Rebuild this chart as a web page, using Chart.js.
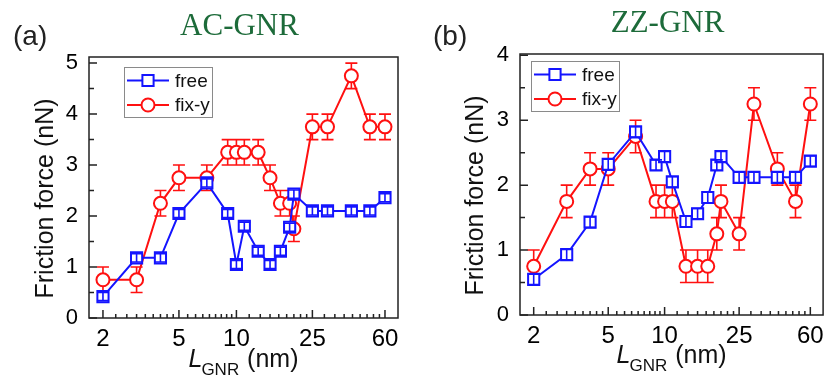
<!DOCTYPE html>
<html lang="en">
<head>
    <meta charset="UTF-8">
    <title>Friction force vs GNR length</title>
    <style>
        body {
            margin: 0;
            background: #ffffff;
        }
        .panel {
            position: absolute;
            top: 0;
            height: 381px;
        }
        #panelA { left: 0; width: 416px; }
        #panelB { left: 416px; width: 417px; }
    </style>
</head>
<body>
    <div class="panel" id="panelA"><canvas id="chartA" width="416" height="381"></canvas></div>
    <div class="panel" id="panelB"><canvas id="chartB" width="417" height="381"></canvas></div>

    <script src="https://cdn.jsdelivr.net/npm/chart.js"></script>
    <script>
        // GNR lengths (nm) shared by every series
        const lengthNm = [2, 3, 4, 5, 7, 9, 10, 11, 13, 15, 17, 19, 20, 25, 30, 40, 50, 60];
        const xTickLabels = [2, 5, 10, 25, 60];
        const yTicksAC = [0, 1, 2, 3, 4, 5];
        const yTicksZZ = [0, 1, 2, 3, 4];

        // (a) AC-GNR
        const acFree     = [0.42, 1.18, 1.18, 2.05, 2.65, 2.05, 1.05, 1.80, 1.31, 1.05, 1.31, 1.78, 2.43, 2.10, 2.10, 2.10, 2.10, 2.36];
        const acFreeErr  = [0.08, 0.08, 0.08, 0.08, 0.08, 0.08, 0.08, 0.08, 0.08, 0.08, 0.08, 0.08, 0.08, 0.08, 0.08, 0.08, 0.08, 0.08];
        const acFixY     = [0.75, 0.75, 2.25, 2.75, 2.75, 3.25, 3.25, 3.25, 3.25, 2.75, 2.25, 2.25, 1.75, 3.75, 3.75, 4.75, 3.75, 3.75];
        const acFixYErr  = [0.25, 0.25, 0.25, 0.25, 0.25, 0.25, 0.25, 0.25, 0.25, 0.25, 0.25, 0.25, 0.25, 0.25, 0.25, 0.25, 0.25, 0.25];

        // (b) ZZ-GNR
        const zzFree     = [0.55, 0.93, 1.43, 2.32, 2.82, 2.31, 2.44, 2.05, 1.44, 1.56, 1.81, 2.31, 2.44, 2.12, 2.12, 2.12, 2.12, 2.37];
        const zzFreeErr  = [0.08, 0.08, 0.08, 0.08, 0.08, 0.08, 0.08, 0.08, 0.08, 0.08, 0.08, 0.08, 0.08, 0.08, 0.08, 0.08, 0.08, 0.08];
        const zzFixY     = [0.75, 1.75, 2.25, 2.25, 2.75, 1.75, 1.75, 1.75, 0.75, 0.75, 0.75, 1.25, 1.75, 1.25, 3.25, 2.25, 1.75, 3.25];
        const zzFixYErr  = [0.25, 0.25, 0.25, 0.25, 0.25, 0.25, 0.25, 0.25, 0.25, 0.25, 0.25, 0.25, 0.25, 0.25, 0.25, 0.25, 0.25, 0.25];

        const BLUE = '#1414ff';
        const RED = '#ff1010';
        const SANS = '"Liberation Sans", Arial, sans-serif';

        function drawMarker(ctx, style, x, y, color) {
            ctx.save();
            ctx.lineWidth = 2;
            ctx.strokeStyle = color;
            ctx.fillStyle = '#ffffff';
            ctx.beginPath();
            if (style === 'rect') {
                ctx.rect(x - 5.6, y - 5.6, 11.2, 11.2);
            } else {
                ctx.arc(x, y, 6.5, 0, Math.PI * 2);
            }
            ctx.fill();
            ctx.stroke();
            ctx.restore();
        }

        // vertical error bars, read through the y scale
        function drawErrors(chart, index) {
            const ds = chart.data.datasets[index];
            const meta = chart.getDatasetMeta(index);
            const yScale = chart.scales.y;
            const ctx = chart.ctx;
            ctx.save();
            ctx.strokeStyle = ds.borderColor;
            ctx.lineWidth = 1.6;
            ctx.beginPath();
            meta.data.forEach((pt, i) => {
                const v = ds.data[i].y, e = ds.errors[i];
                const top = yScale.getPixelForValue(v + e);
                const bot = yScale.getPixelForValue(v - e);
                ctx.moveTo(pt.x, top); ctx.lineTo(pt.x, bot);
                ctx.moveTo(pt.x - 6, top); ctx.lineTo(pt.x + 6, top);
                ctx.moveTo(pt.x - 6, bot); ctx.lineTo(pt.x + 6, bot);
            });
            ctx.stroke();
            ctx.restore();
        }

        const errorBars = {
            id: 'errorBars',
            beforeDatasetDraw(chart, args) {
                if (!chart.data.datasets[args.index].errOnTop) drawErrors(chart, args.index);
            },
            afterDatasetDraw(chart, args) {
                if (chart.data.datasets[args.index].errOnTop) drawErrors(chart, args.index);
            }
        };

        // frame, inward ticks, titles and boxed legend
        const decorations = {
            id: 'decorations',
            beforeDatasetsDraw(chart) {
                const { ctx, chartArea: a, scales: { x, y } } = chart;
                ctx.save();
                ctx.strokeStyle = '#222';
                ctx.lineWidth = 1.5;
                ctx.strokeRect(a.left, a.top, a.right - a.left, a.bottom - a.top);
                ctx.beginPath();
                const yt = y.ticks.map(t => t.value);
                yt.forEach((v, i) => {
                    const p = y.getPixelForValue(v);
                    ctx.moveTo(a.left, p); ctx.lineTo(a.left + 8, p);
                    if (i < yt.length - 1) {
                        const m = y.getPixelForValue((v + yt[i + 1]) / 2);
                        ctx.moveTo(a.left, m); ctx.lineTo(a.left + 5, m);
                    }
                });
                const xt = x.ticks.map(t => t.value);
                xt.forEach((v, i) => {
                    const p = x.getPixelForValue(v);
                    ctx.moveTo(p, a.bottom); ctx.lineTo(p, a.bottom - 8);
                    if (i < xt.length - 1) {
                        const step = (xt[i + 1] - v) / 9;
                        for (let k = 1; k < 9; k++) {
                            const m = x.getPixelForValue(v + k * step);
                            ctx.moveTo(m, a.bottom); ctx.lineTo(m, a.bottom - 4);
                        }
                    }
                });
                ctx.stroke();
                ctx.restore();
            },
            afterDraw(chart, args, opts) {
                const { ctx, chartArea: a } = chart;
                const cx = (a.left + a.right) / 2;
                ctx.save();

                // panel letter
                ctx.fillStyle = '#222';
                ctx.font = '28px ' + SANS;
                ctx.textAlign = 'left';
                ctx.textBaseline = 'alphabetic';
                ctx.fillText(opts.letter, opts.letterX, 45);

                // panel title
                ctx.fillStyle = '#1d6b3a';
                ctx.font = '31px "Liberation Serif", "Times New Roman", serif';
                ctx.textAlign = 'center';
                ctx.fillText(opts.title, cx - 4, a.top - 22);

                // y axis title
                ctx.fillStyle = '#111';
                ctx.font = '25px ' + SANS;
                ctx.save();
                ctx.translate(a.left - opts.yTitleGap, (a.top + a.bottom) / 2 + 11);
                ctx.rotate(-Math.PI / 2);
                ctx.textAlign = 'center';
                ctx.fillText('Friction force (nN)', 0, 0);
                ctx.restore();

                // x axis title: L_GNR (nm)
                const base = a.bottom + opts.xTitleGap;
                const fL = 'italic 25px ' + SANS, fSub = '17px ' + SANS, fMain = '25px ' + SANS;
                ctx.font = fL; const wL = ctx.measureText('L').width;
                ctx.font = fSub; const wSub = ctx.measureText('GNR').width;
                ctx.font = fMain; const wRest = ctx.measureText(' (nm)').width;
                let xs = cx - (wL + wSub + wRest) / 2;
                ctx.textAlign = 'left';
                ctx.font = fL; ctx.fillText('L', xs, base); xs += wL - 1;
                ctx.font = fSub; ctx.fillText('GNR', xs, base + 8); xs += wSub + 1;
                ctx.font = fMain; ctx.fillText(' (nm)', xs, base);

                // legend box
                const bx = a.left + opts.legendX, by = a.top + opts.legendY;
                ctx.fillStyle = '#ffffff';
                ctx.fillRect(bx, by, 88, 50);
                ctx.strokeStyle = '#8a8a8a';
                ctx.lineWidth = 1;
                ctx.strokeRect(bx + 0.5, by + 0.5, 88, 50);
                chart.data.datasets.forEach((ds, i) => {
                    const ly = by + 13.5 + i * 24.5;
                    ctx.strokeStyle = ds.borderColor;
                    ctx.lineWidth = 2;
                    ctx.beginPath();
                    ctx.moveTo(bx + 3, ly); ctx.lineTo(bx + 45, ly);
                    ctx.stroke();
                    drawMarker(ctx, ds.pointStyle, bx + 24, ly, ds.borderColor);
                    ctx.fillStyle = '#111';
                    ctx.font = '19px ' + SANS;
                    ctx.textBaseline = 'middle';
                    ctx.fillText(ds.label, bx + 51, ly + 1);
                    ctx.textBaseline = 'alphabetic';
                });
                ctx.restore();
            }
        };

        function series(label, ys, errs, color, style, onTop) {
            return {
                label: label,
                data: lengthNm.map((x, i) => ({ x: x, y: ys[i] })),
                errors: errs,
                errOnTop: onTop,
                borderColor: color,
                backgroundColor: '#ffffff',
                borderWidth: 2,
                pointStyle: style,
                pointRadius: style === 'rect' ? 7.9 : 6.5,
                pointHoverRadius: style === 'rect' ? 7.9 : 6.5,
                pointBorderWidth: 2,
                pointBackgroundColor: '#ffffff',
                pointBorderColor: color,
                tension: 0,
                clip: false
            };
        }

        function createPanel(canvasId, sets, yTicks, yMax, frame, deco) {
            return new Chart(document.getElementById(canvasId), {
                type: 'line',
                data: { datasets: sets },
                options: {
                    responsive: false,
                    animation: false,
                    devicePixelRatio: 1,
                    layout: { padding: { top: frame.top, right: frame.right, left: 0, bottom: 0 } },
                    scales: {
                        x: {
                            type: 'logarithmic',
                            min: 1.69,
                            max: 70.2,
                            grid: { display: false, drawTicks: false },
                            border: { display: false },
                            afterBuildTicks: s => { s.ticks = xTickLabels.map(v => ({ value: v })); },
                            afterFit: s => { s.height = frame.xHeight; },
                            ticks: {
                                autoSkip: false,
                                maxRotation: 0,
                                padding: 6.5,
                                color: '#000',
                                font: { family: SANS, size: 24 },
                                callback: v => String(v)
                            }
                        },
                        y: {
                            min: 0,
                            max: yMax,
                            grid: { display: false, drawTicks: false },
                            border: { display: false },
                            afterBuildTicks: s => { s.ticks = yTicks.map(v => ({ value: v })); },
                            afterFit: s => { s.width = frame.yWidth; },
                            ticks: {
                                padding: 11,
                                color: '#000',
                                font: { family: SANS, size: 22 },
                                callback: v => String(v)
                            }
                        }
                    },
                    plugins: {
                        legend: { display: false },
                        tooltip: { enabled: false },
                        decorations: deco
                    }
                },
                plugins: [errorBars, decorations]
            });
        }

        createPanel('chartA', [
            series('free', acFree, acFreeErr, BLUE, 'rect', true),
            series('fix-y', acFixY, acFixYErr, RED, 'circle', false)
        ], yTicksAC, 5.12,
            { top: 57, right: 18, xHeight: 63, yWidth: 89 },
            { letter: '(a)', letterX: 13, title: 'AC-GNR', yTitleGap: 36, xTitleGap: 49, legendX: 35, legendY: 10 });

        createPanel('chartB', [
            series('free', zzFree, zzFreeErr, BLUE, 'rect', true),
            series('fix-y', zzFixY, zzFixYErr, RED, 'circle', false)
        ], yTicksZZ, 4.02,
            { top: 54, right: 5, xHeight: 66, yWidth: 104 },
            { letter: '(b)', letterX: 17, title: 'ZZ-GNR', yTitleGap: 37, xTitleGap: 48, legendX: 11, legendY: 7 });
    </script>
</body>
</html>
